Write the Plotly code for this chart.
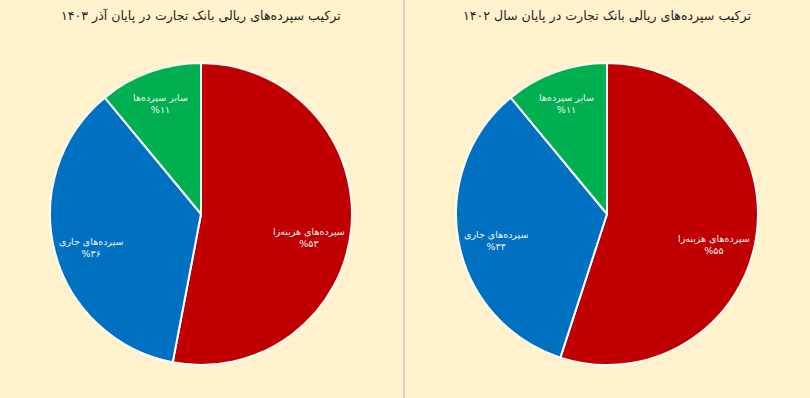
import math
import plotly.graph_objects as go

categories = ["سپرده‌های هزینه‌زا", "سپرده‌های جاری", "سایر سپرده‌ها"]
values_azar_1403 = [53, 36, 11]
values_end_1402 = [55, 34, 11]
titles = ["ترکیب سپرده‌های ریالی بانک تجارت در پایان آذر ۱۴۰۳",
          "ترکیب سپرده‌های ریالی بانک تجارت در پایان سال ۱۴۰۲"]
colors = ["#C00000", "#0070C0", "#00B050"]
label_radius = [0.72, 0.75, 0.80]  # fraction of pie radius for each label
label_yshift = [-13, -5, -3]       # px nudge of each label

FA = str.maketrans("0123456789", "۰۱۲۳۴۵۶۷۸۹")
FONT = "DejaVu Sans, sans-serif"
W, H = 810, 398
R = 151  # pie radius in px
centers = [(201, 214), (607, 214)]


def labels_for(vals):
    return [f"{c}<br>%{str(v).translate(FA)}" for c, v in zip(categories, vals)]


fig = go.Figure()
for vals, (cx, cy), title in zip([values_azar_1403, values_end_1402], centers, titles):
    fig.add_trace(go.Pie(
        labels=categories, values=vals,
        textinfo="none",
        sort=False, direction="clockwise", rotation=0,
        marker=dict(colors=colors, line=dict(color="white", width=2)),
        domain=dict(x=[(cx - R) / W, (cx + R) / W], y=[1 - (cy + R) / H, 1 - (cy - R) / H]),
        showlegend=False, hoverinfo="label+value",
    ))
    total = sum(vals)
    cum = 0
    for txt, v, rf, ys in zip(labels_for(vals), vals, label_radius, label_yshift):
        mid = (cum + v / 2) / total * 2 * math.pi
        cum += v
        px = cx + rf * R * math.sin(mid)
        py = cy - rf * R * math.cos(mid)
        fig.add_annotation(text=txt, x=px / W, y=1 - py / H, xref="paper", yref="paper",
                           showarrow=False, xanchor="center", yanchor="middle", yshift=ys,
                           font=dict(family=FONT, size=9.5, color="#F2F2F2"))
    fig.add_annotation(text=title, x=cx / W, y=1 - 16 / H, xref="paper", yref="paper",
                       showarrow=False, xanchor="center", yanchor="middle",
                       font=dict(family=FONT, size=12.6, color="#1F1F1F"))

fig.add_shape(type="line", xref="paper", yref="paper", x0=404 / W, x1=404 / W,
              y0=0, y1=1, line=dict(color="#D9D3C4", width=2))

fig.update_layout(width=W, height=H, margin=dict(l=0, r=0, t=0, b=0),
                  paper_bgcolor="#FFF2CC", plot_bgcolor="#FFF2CC")
fig.write_html("out.html", config={"displayModeBar": False},
               post_script="document.body.style.margin='0';")
